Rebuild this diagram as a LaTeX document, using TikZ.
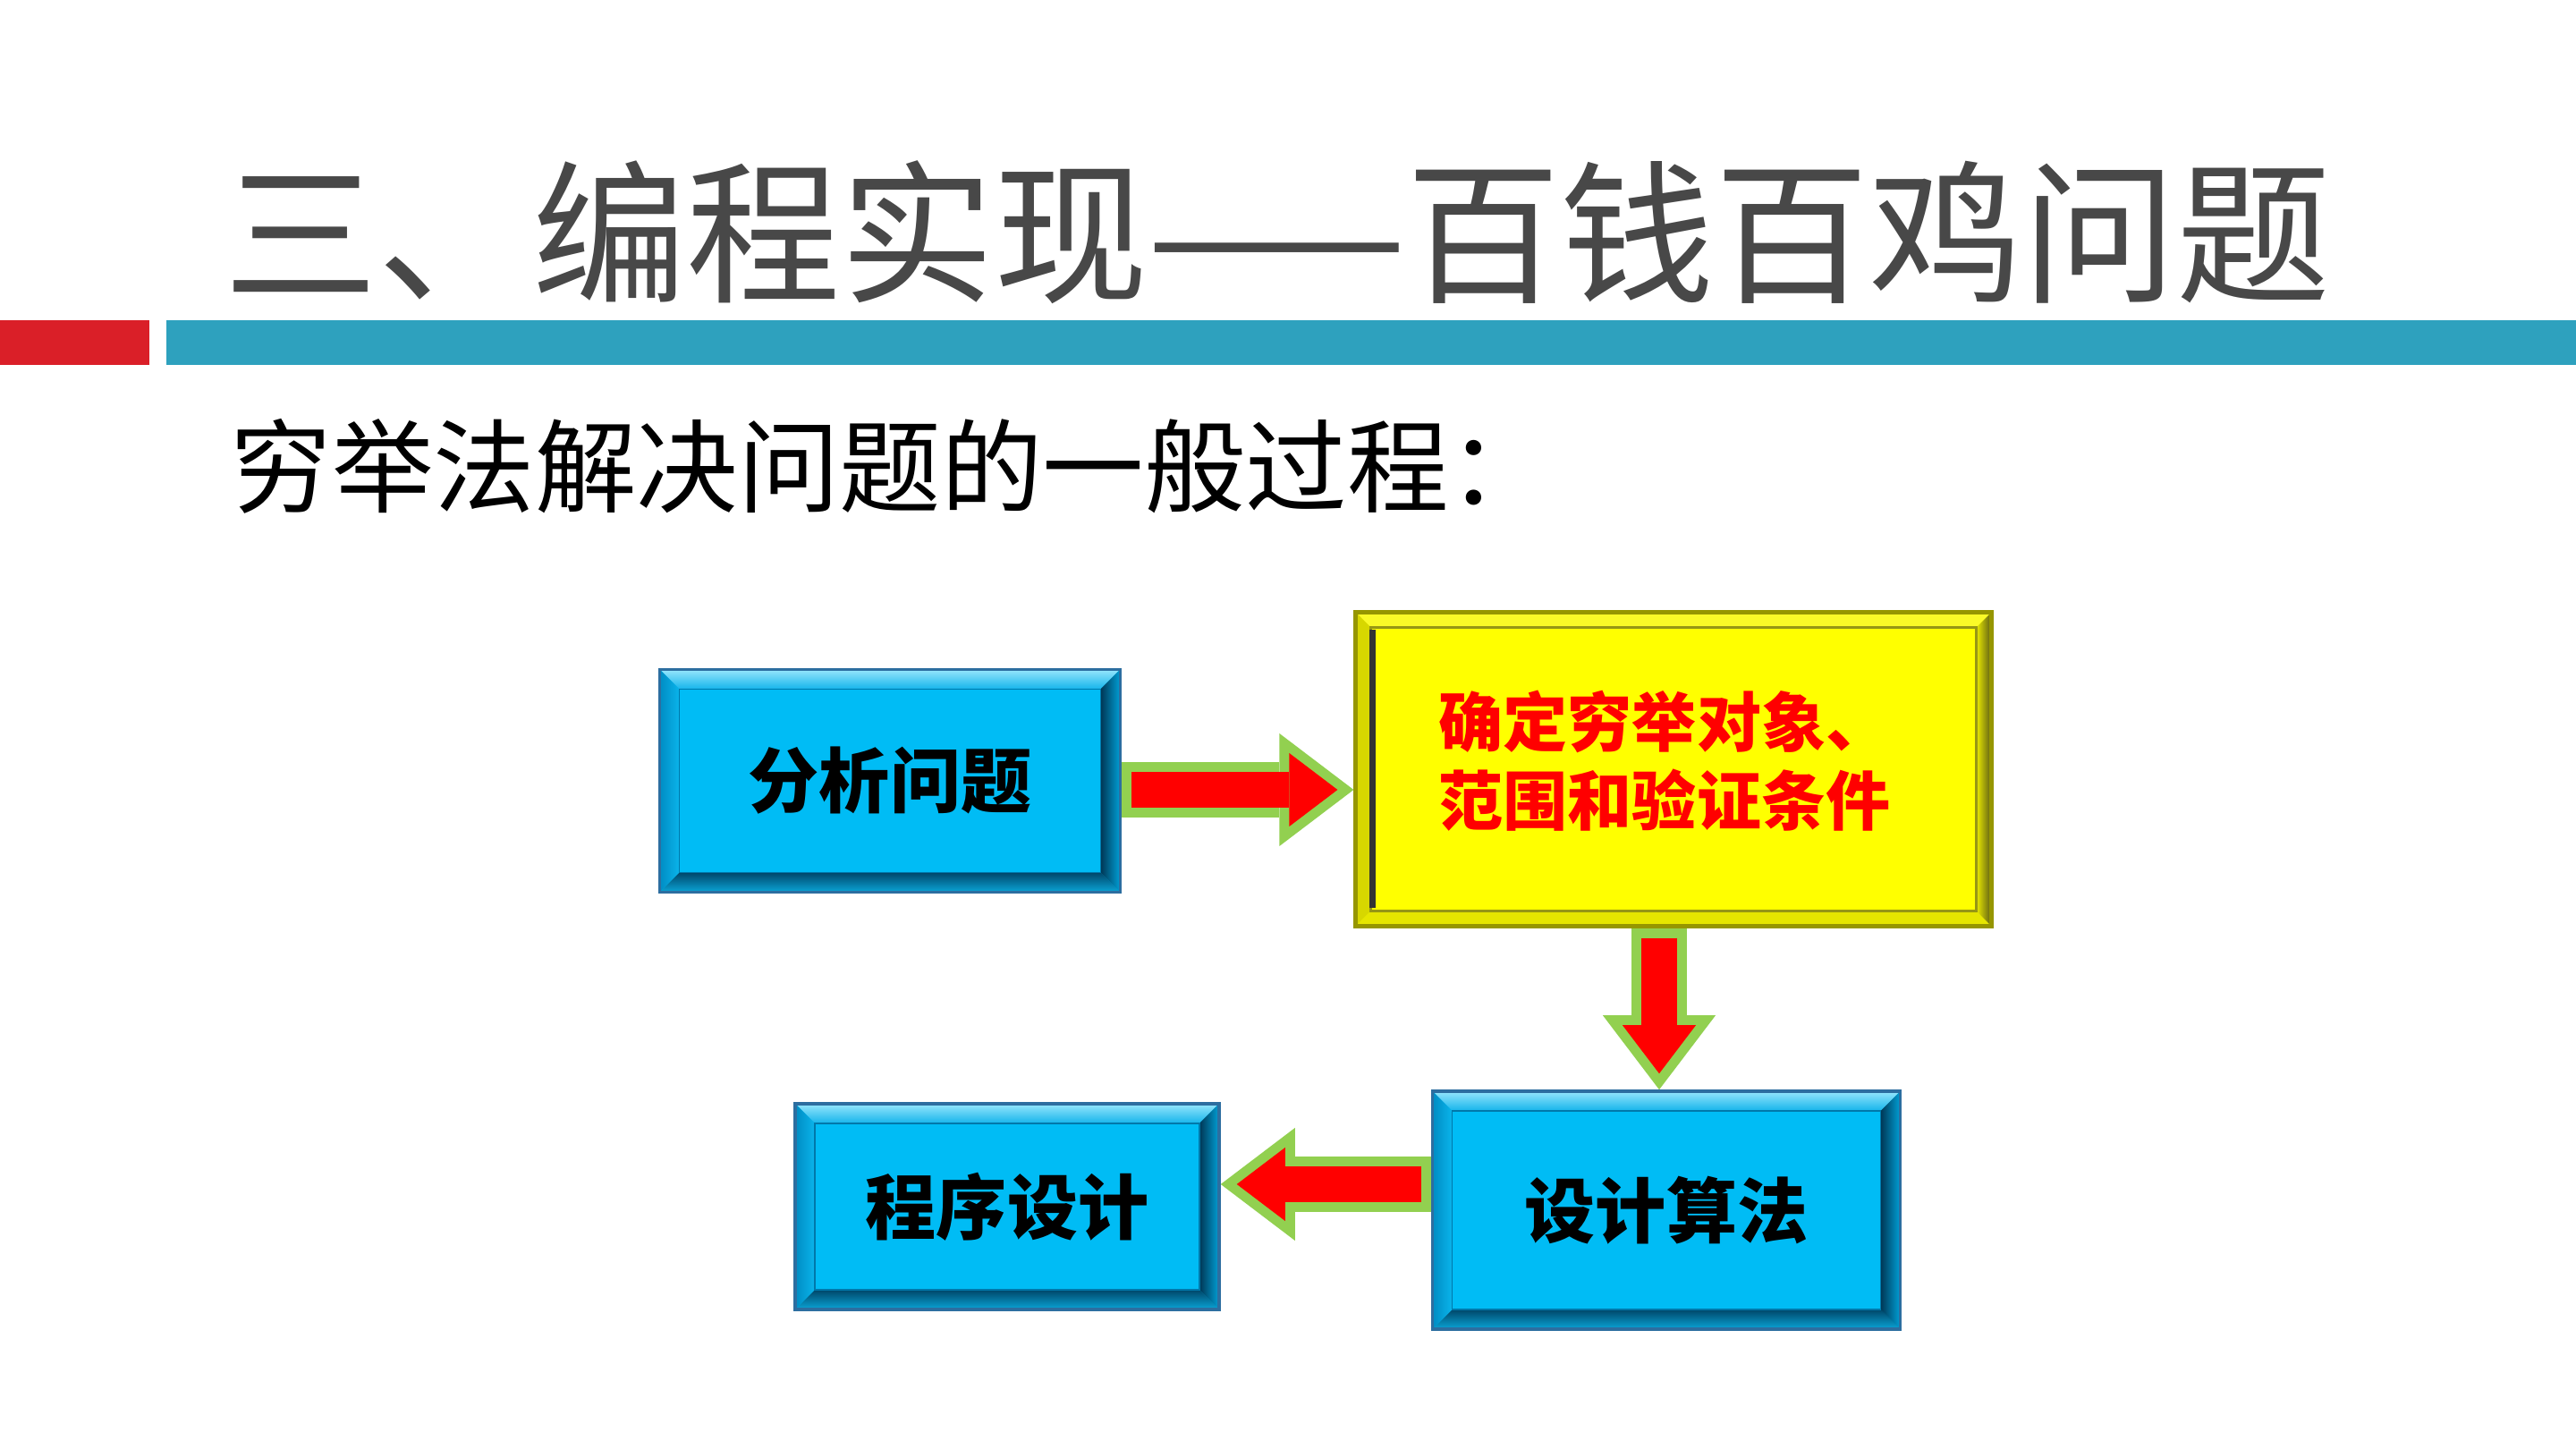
\documentclass[tikz,border=0pt]{standalone}
\usepackage{fontspec}
\usepackage{tikz}
\usetikzlibrary{positioning,arrows.meta,calc}
\newfontfamily\cjk{Noto Sans CJK SC}
\definecolor{barred}{RGB}{218,31,40}
\definecolor{barblue}{RGB}{46,161,190}
\definecolor{titlegray}{RGB}{72,72,72}
\definecolor{bluface}{RGB}{0,188,245}
\definecolor{bluedge}{RGB}{45,110,160}
\definecolor{yelface}{RGB}{255,255,0}
\definecolor{yeledge}{RGB}{150,150,0}
\definecolor{arrgreen}{RGB}{146,208,80}
\definecolor{arrred}{RGB}{255,0,0}

% bevel: depth, top, bottom, left, right, inner edge
\newcommand{\bevelfill}[6]{%
  \coordinate (bsw) at (path picture bounding box.south west);
  \coordinate (bne) at (path picture bounding box.north east);
  \coordinate (bnw) at (bsw |- bne);
  \coordinate (bse) at (bne |- bsw);
  \path[#2] (bnw) -- (bne) -- ($(bne)+(-#1,-#1)$) -- ($(bnw)+(#1,-#1)$) -- cycle;
  \path[#3] (bsw) -- (bse) -- ($(bse)+(-#1,#1)$) -- ($(bsw)+(#1,#1)$) -- cycle;
  \path[#4] (bsw) -- (bnw) -- ($(bnw)+(#1,-#1)$) -- ($(bsw)+(#1,#1)$) -- cycle;
  \path[#5] (bse) -- (bne) -- ($(bne)+(-#1,-#1)$) -- ($(bse)+(-#1,#1)$) -- cycle;
  \draw[#6] ($(bsw)+(#1,#1)$) rectangle ($(bne)+(-#1,-#1)$);
}

\begin{document}
\begin{tikzpicture}[
    bluebox/.style={draw=bluedge,line width=1pt,fill=bluface,
      font=\cjk\bfseries\fontsize{22.5}{27}\selectfont,
      path picture={\bevelfill{0.22}
        {top color={rgb,255:red,150;green,230;blue,252},bottom color={rgb,255:red,20;green,180;blue,235}}
        {top color={rgb,255:red,0;green,70;blue,105},bottom color={rgb,255:red,10;green,165;blue,215}}
        {left color={rgb,255:red,0;green,140;blue,195},right color={rgb,255:red,10;green,180;blue,235}}
        {left color={rgb,255:red,0;green,55;blue,85},right color={rgb,255:red,0;green,160;blue,215}}
        {draw={rgb,255:red,0;green,120;blue,170},line width=0.5pt}}},
    yelbox/.style={draw=yeledge,line width=1.2pt,fill=yelface,
      path picture={\bevelfill{0.17}
        {fill={rgb,255:red,250;green,250;blue,40}}
        {fill={rgb,255:red,230;green,230;blue,0}}
        {fill={rgb,255:red,215;green,215;blue,0}}
        {left color={rgb,255:red,235;green,235;blue,0},right color={rgb,255:red,90;green,90;blue,20}}
        {draw={rgb,255:red,150;green,150;blue,20},line width=1pt}
        \draw[line width=2.2pt,black!80] ($(bsw)+(0.19,0.2)$) -- ($(bsw|-bne)+(0.19,-0.2)$);}},
    arrout/.style={draw=arrgreen,line width=0.62cm,
      -{Triangle[length=0.83cm,width=1.26cm,line width=0pt]}},
    arrin/.style={draw=arrred,line width=0.40cm,shorten <=0.11cm,shorten >=0.18cm,
      -{Triangle[length=0.54cm,width=0.82cm,line width=0pt]}}]
  \useasboundingbox (0,0) rectangle (28.8,16.2);
  \fill[white] (0,0) rectangle (28.8,16.2);

  % header
  \node[anchor=west,inner sep=0,text=titlegray,font=\cjk\fontsize{49}{55}\selectfont]
    (title) at (2.50,13.60) {三、编程实现——百钱百鸡问题};
  \fill[barred]  (0,12.12) rectangle (1.67,12.62);
  \fill[barblue] (1.86,12.12) rectangle (28.8,12.62);
  \node[anchor=west,inner sep=0,font=\cjk\fontsize{32.3}{38}\selectfont]
    (sub) at (2.57,10.99) {穷举法解决问题的一般过程：};

  % steps
  \node[bluebox,minimum width=5.15cm,minimum height=2.49cm] (ana) at (9.95,7.47) {分析问题};
  \node[yelbox,minimum width=7.11cm,minimum height=3.51cm] (det) at (18.71,7.60) {};
  \node[align=left,text=arrred,font=\cjk\bfseries\fontsize{20.5}{25}\selectfont]
    (detlbl) at ($(det)+(-0.1,0.09)$) {确定穷举对象、\\范围和验证条件};
  \node[bluebox,minimum width=5.23cm,minimum height=2.66cm] (alg) at (18.63,2.67) {设计算法};
  \node[bluebox,minimum width=4.74cm,minimum height=2.30cm] (prg) at (11.26,2.71) {程序设计};

  % block arrows
  \coordinate (a1s) at ($(ana.east)+(0,-0.10)$);
  \coordinate (a1t) at (a1s -| det.west);
  \coordinate (a2s) at ($(det.south -| alg.north)+(-0.08,0)$);
  \coordinate (a2t) at ($(alg.north)+(-0.08,0)$);
  \coordinate (a3s) at ($(alg.west)+(0,0.29)$);
  \coordinate (a3t) at (a3s -| prg.east);
  \foreach \a/\b in {a1s/a1t,a2s/a2t,a3s/a3t} {
    \draw[arrout] (\a) -- (\b);
    \draw[arrin] (\a) -- (\b);
  }
\end{tikzpicture}
\end{document}
